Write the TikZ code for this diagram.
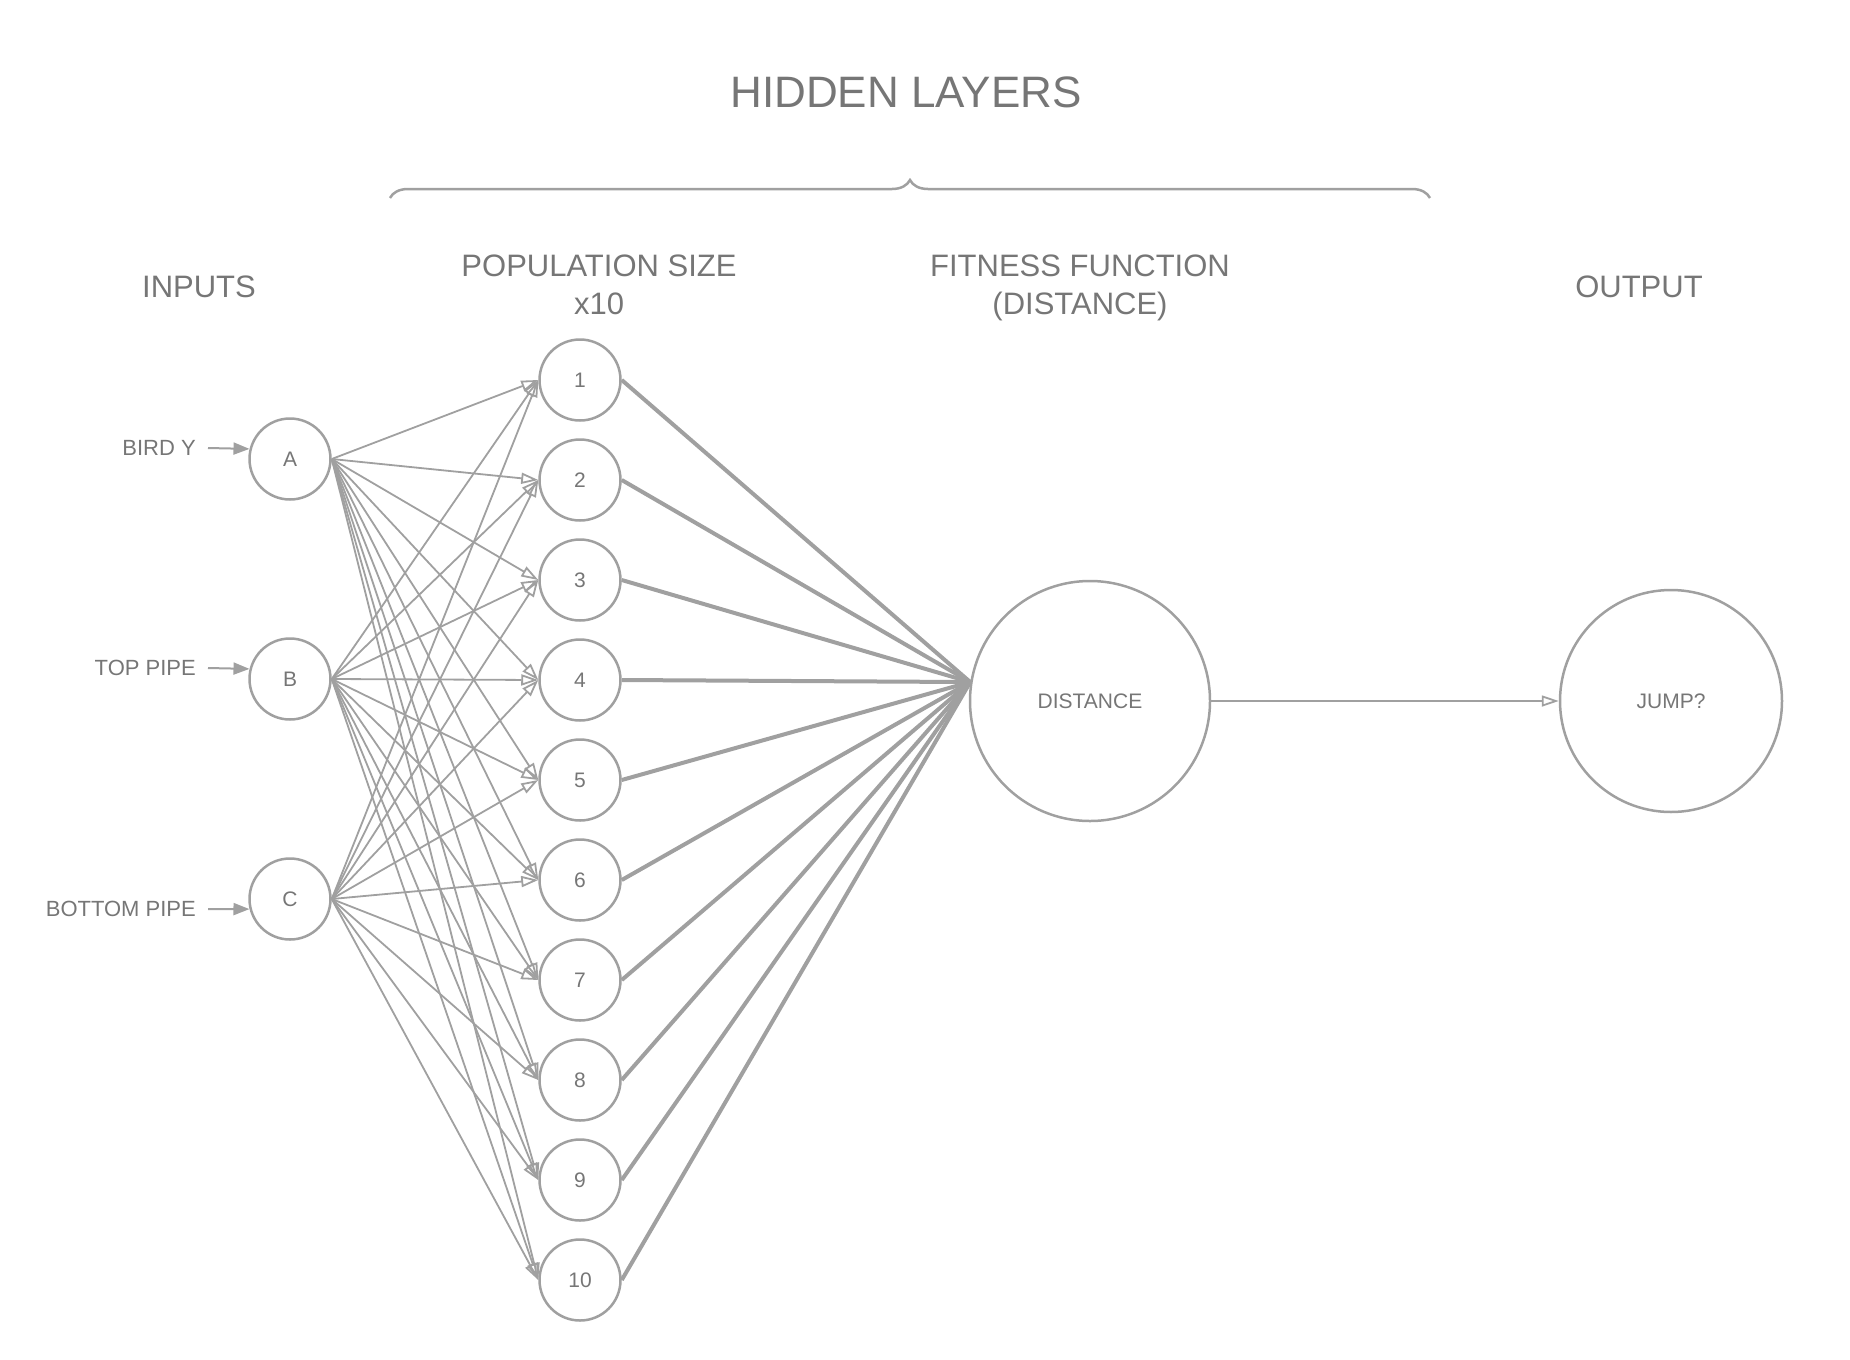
\documentclass[tikz,border=0pt]{standalone}
\usepackage{fontspec}
\setmainfont{Liberation Sans}
\usepackage{tikz}
\usetikzlibrary{arrows.meta}
\usetikzlibrary{positioning}
\usetikzlibrary{decorations.pathreplacing}
\definecolor{linegray}{HTML}{A0A0A0}
\definecolor{textgray}{HTML}{767676}
\tikzset{
    neuron/.style={
           circle,
           draw=linegray, line width=2.5pt,
           text=textgray,
           font=\fontsize{21}{25}\selectfont,
           minimum size=81pt,
           inner sep=0pt,
           },
    heading/.style={
           text=textgray,
           font=\fontsize{31}{38}\selectfont,
           align=center,
           inner sep=0pt,
           },
    inlabel/.style={
           text=textgray,
           font=\fontsize{22}{26}\selectfont,
           anchor=east,
           inner xsep=12pt,
           },
    feed/.style={
           linegray, line width=2pt,
           -{Triangle[length=16pt,width=12pt]},
           },
    weight/.style={
           linegray, line width=1.8pt,
           ->,
           },
    fitline/.style={
           linegray, line width=4pt,
           },
    brace/.style={
           linegray, line width=2.5pt,
           decorate,
           decoration={brace,amplitude=18pt},
           },
}

\begin{document}
\begin{tikzpicture}[x=1pt,y=-1pt,>={Triangle[open,length=17pt,width=11pt]}]
 \useasboundingbox (0,0) rectangle (1850,1360);

 % headings
 \node[heading, font=\fontsize{44}{50}\selectfont] (hidden) at (906,92) {HIDDEN LAYERS};
 \coordinate (braceL) at (390,198);
 \coordinate (braceR) at (1430,198);
 \draw[brace] (braceL) -- (braceR);
 \node[heading] (inputs) at (199,287) {INPUTS};
 \node[heading] (popsize) at (599,285) {POPULATION SIZE\\x10};
 \node[heading] (fitness) at (1080,288) {FITNESS FUNCTION\\(DISTANCE)};
 \node[heading] (output) at (1639,287) {OUTPUT};

 % inputs
 \node[neuron] (A) at (290,459) {A};
 \node[neuron,
 below of=A,
 node distance=220pt] (B) {B};
 \node[neuron,
 below of=B,
 node distance=220pt] (C) {C};

 \node[inlabel] (birdy) at (208,448) {BIRD Y};
 \node[inlabel] (toppipe) at (208,668) {TOP PIPE};
 \node[inlabel] (botpipe) at (208,909) {BOTTOM PIPE};

 % population
 \node[neuron] (h1) at (580,380) {1};
 \node[neuron, below of=h1, node distance=100pt] (h2) {2};
 \node[neuron, below of=h2, node distance=100pt] (h3) {3};
 \node[neuron, below of=h3, node distance=100pt] (h4) {4};
 \node[neuron, below of=h4, node distance=100pt] (h5) {5};
 \node[neuron, below of=h5, node distance=100pt] (h6) {6};
 \node[neuron, below of=h6, node distance=100pt] (h7) {7};
 \node[neuron, below of=h7, node distance=100pt] (h8) {8};
 \node[neuron, below of=h8, node distance=100pt] (h9) {9};
 \node[neuron, below of=h9, node distance=100pt] (h10) {10};

 % fitness and output
 \node[neuron,
 minimum size=240pt] (DIST) at (1090,701) {DISTANCE};
 \node[neuron,
 right of=DIST,
 node distance=581pt,
 minimum size=222pt] (JUMP) {JUMP?};

 \path[feed]
  (birdy.east) edge (A.166)
  (toppipe.east) edge (B.166)
  (botpipe.east) edge (C.194)
 ;

 \path[weight]
  (A.east) edge (h1.west) edge (h2.west) edge (h3.west) edge (h4.west) edge (h5.west)
           edge (h6.west) edge (h7.west) edge (h8.west) edge (h9.west) edge (h10.west)
  (B.east) edge (h1.west) edge (h2.west) edge (h3.west) edge (h4.west) edge (h5.west)
           edge (h6.west) edge (h7.west) edge (h8.west) edge (h9.west) edge (h10.west)
  (C.east) edge (h1.west) edge (h2.west) edge (h3.west) edge (h4.west) edge (h5.west)
           edge (h6.west) edge (h7.west) edge (h8.west) edge (h9.west) edge (h10.west)
 ;

 \path[fitline]
  (h1.east) edge (DIST.171)
  (h2.east) edge (DIST.171)
  (h3.east) edge (DIST.171)
  (h4.east) edge (DIST.171)
  (h5.east) edge (DIST.171)
  (h6.east) edge (DIST.171)
  (h7.east) edge (DIST.171)
  (h8.east) edge (DIST.171)
  (h9.east) edge (DIST.171)
  (h10.east) edge (DIST.171)
 ;

 \path[weight]
  (DIST) edge (JUMP)
 ;
\end{tikzpicture}
\end{document}
